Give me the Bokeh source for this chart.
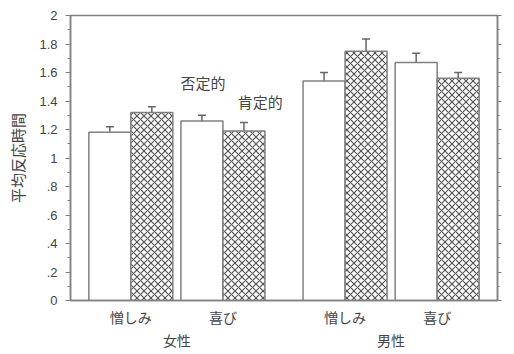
from bokeh.plotting import figure
from bokeh.models import (FactorRange, ColumnDataSource, Whisker, TeeHead, LinearAxis,
                          Range1d, Label, FixedTicker, CustomJSTickFormatter)
from bokeh.transform import dodge
from bokeh.embed import file_html
from bokeh.resources import INLINE

# ---- data ----
sexes = ["女性", "女性", "男性", "男性"]
emotions = ["憎しみ", "喜び", "憎しみ", "喜び"]
neg_means = [1.18, 1.26, 1.54, 1.67]     # white bars
neg_errs = [0.04, 0.04, 0.06, 0.065]
pos_means = [1.32, 1.19, 1.75, 1.56]     # cross-hatched bars
pos_errs = [0.04, 0.06, 0.085, 0.04]
y_ticks = [0, 0.2, 0.4, 0.6, 0.8, 1.0, 1.2, 1.4, 1.6, 1.8, 2.0]
y_tick_labels = ["0", ".2", ".4", ".6", ".8", "1", "1.2", "1.4", "1.6", "1.8", "2"]
y_minor = [0.1, 0.3, 0.5, 0.7, 0.9, 1.1, 1.3, 1.5, 1.7, 1.9]
y_title = "平均反応時間"
series_names = ["否定的", "肯定的"]

JP = "Noto Sans CJK JP"
TXT = "#444444"
LINE = "#808080"

factors = list(zip(sexes, emotions))
src = ColumnDataSource(dict(
    x=factors,
    neg=neg_means,
    neg_up=[m + e for m, e in zip(neg_means, neg_errs)],
    pos=pos_means,
    pos_up=[m + e for m, e in zip(pos_means, pos_errs)],
))

xr = FactorRange(*factors, factor_padding=0, group_padding=0.326,
                 range_padding=0.155, range_padding_units="absolute")

p = figure(x_range=xr, y_range=Range1d(0, 2), frame_width=427, frame_height=285,
           output_backend="svg", toolbar_location=None,
           min_border_left=70, min_border_right=17, min_border_top=15, min_border_bottom=54)

bw = 0.456
off = bw / 2
p.vbar(x=dodge("x", -off, range=xr), top="neg", width=bw, source=src,
       fill_color="white", line_color=LINE, line_width=1.5)
p.vbar(x=dodge("x", off, range=xr), top="pos", width=bw, source=src,
       fill_color="white", line_color=LINE, line_width=1.5,
       hatch_pattern="diagonal_cross", hatch_scale=7, hatch_color="#555555", hatch_weight=1.2)

for col, up, sh in (("neg", "neg_up", -off), ("pos", "pos_up", off)):
    p.add_layout(Whisker(base=dodge("x", sh, range=xr), lower=col, upper=up, source=src,
                         upper_head=TeeHead(size=8, line_color="#666666", line_width=1.5),
                         lower_head=None, line_color="#666666", line_width=1.5))

# y axes
ticker = FixedTicker(ticks=y_ticks, minor_ticks=y_minor)
ya = p.yaxis[0]
ya.ticker = ticker
ya.major_label_overrides = dict(zip(y_ticks, y_tick_labels))
ya.axis_label = y_title
ya.axis_label_text_font = JP
ya.axis_label_text_font_size = "15px"
ya.axis_label_text_font_style = "normal"
ya.axis_label_text_color = TXT
ya.axis_label_standoff = 8
ya.major_label_text_font_size = "13px"
ya.major_label_text_color = TXT
ya.major_label_standoff = 8
ya.axis_line_color = LINE
ya.axis_line_width = 1.5
ya.major_tick_line_color = LINE
ya.minor_tick_line_color = LINE
ya.major_tick_out = 5
ya.major_tick_in = 0
ya.minor_tick_out = 3
ya.minor_tick_in = 0

ra = LinearAxis(ticker=ticker, formatter=CustomJSTickFormatter(code="return ''"),
                major_label_text_font_size="1px", axis_line_color=LINE,
                axis_line_width=1.5, major_tick_line_color=LINE, minor_tick_line_color=LINE,
                major_tick_out=4, major_tick_in=0, minor_tick_out=2, minor_tick_in=0,
                major_label_standoff=0)
p.add_layout(ra, "right")

xa = p.xaxis[0]
xa.axis_line_color = LINE
xa.axis_line_width = 1.5
xa.major_tick_line_color = None
xa.minor_tick_line_color = None
xa.separator_line_color = None
xa.major_label_text_font = JP
xa.major_label_text_font_size = "14px"
xa.major_label_text_color = TXT
xa.major_label_standoff = 0
xa.group_text_font = JP
xa.group_text_font_size = "14px"
xa.group_text_color = TXT
xa.group_text_font_style = "normal"

p.xgrid.visible = False
p.ygrid.visible = False
p.outline_line_color = LINE
p.outline_line_width = 1.5

for txt, x, y in ((series_names[0], 1.04, 1.53), (series_names[1], 1.66, 1.40)):
    p.add_layout(Label(x=x, y=y, text=txt, text_baseline="middle", text_font=JP,
                       text_font_size="15px", text_color=TXT))

open("out.html", "w").write(file_html(p, INLINE))
